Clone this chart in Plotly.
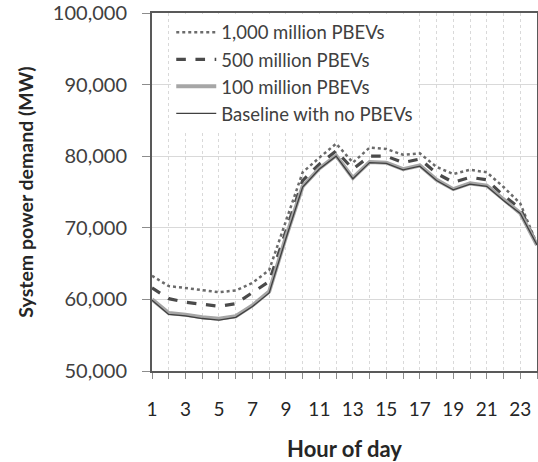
import plotly.graph_objects as go

hours = list(range(1, 25))
pbev_1000 = [63300, 61850, 61600, 61250, 61000, 61250, 62300, 64100, 71000, 77750, 79800, 81750,
             79100, 81200, 81000, 80200, 80400, 78500, 77500, 78100, 77750, 75700, 73400, 67700]
pbev_500 = [61600, 60100, 59600, 59300, 59050, 59400, 60900, 62500, 69500, 76600, 78900, 80750,
            78200, 80000, 80000, 79100, 79600, 77600, 76350, 77050, 76700, 74500, 72700, 67600]
pbev_100 = [60000, 58100, 57850, 57500, 57300, 57650, 59150, 61100, 68700, 75800, 78300, 80100,
            76950, 79200, 79100, 78200, 78700, 76700, 75400, 76200, 75900, 73900, 72050, 67600]
baseline = [59900, 57900, 57700, 57330, 57100, 57500, 59000, 60900, 68500, 75700, 78200, 80000,
            76850, 79100, 79000, 78100, 78600, 76600, 75300, 76100, 75800, 73800, 72000, 67600]
names = ["1,000 million PBEVs", "500 million PBEVs", "100 million PBEVs", "Baseline with no PBEVs"]
y_ticks = [50000, 60000, 70000, 80000, 90000, 100000]
x_ticks = list(range(1, 24, 2))

FONT = "Lato"
fig = go.Figure()
fig.add_trace(go.Scatter(x=hours, y=pbev_1000, name=names[0], mode="lines",
                         line=dict(color="#6b6b6b", width=2.5, dash="dot")))
fig.add_trace(go.Scatter(x=hours, y=pbev_500, name=names[1], mode="lines",
                         line=dict(color="#4a4a4a", width=3.2, dash="dash")))
fig.add_trace(go.Scatter(x=hours, y=pbev_100, name=names[2], mode="lines",
                         line=dict(color="#a6a6a6", width=4)))
fig.add_trace(go.Scatter(x=hours, y=baseline, name=names[3], mode="lines",
                         line=dict(color="#404040", width=1.3)))

fig.update_layout(
    width=538, height=462,
    margin=dict(l=152, r=1, t=13, b=91, autoexpand=False),
    paper_bgcolor="white", plot_bgcolor="white",
    font=dict(family=FONT, color="#404040"),
    showlegend=True,
    legend=dict(x=0.05, y=0.998, xanchor="left", yanchor="top", bgcolor="white",
                font=dict(family=FONT, size=18.5, color="#404040"),
                tracegroupgap=0, itemwidth=40, borderwidth=0,
                ),
)
fig.update_xaxes(
    range=[1, 24], tickvals=x_ticks, ticktext=[str(v) for v in x_ticks],
    tickfont=dict(family=FONT, size=19, color="#262626"),
    ticks="outside", ticklen=6, tickcolor="#8c8c8c", tickwidth=1,
    showgrid=True, gridcolor="#d9d9d9", griddash="3px,3px", gridwidth=1,
    minor=dict(dtick=1, tick0=0, ticks="outside", ticklen=6, tickcolor="#8c8c8c",
               showgrid=True, gridcolor="#d9d9d9", griddash="3px,3px", gridwidth=1),
    showline=True, linecolor="#595959", linewidth=2, mirror=True,
    ticklabelstandoff=14, ticklabeloverflow="allow", automargin=False,
    title=dict(text="<b>Hour of day</b>", font=dict(family=FONT, size=22, color="#262626"),
               standoff=24),
    zeroline=False,
)
fig.update_yaxes(
    range=[50000, 100000], tickvals=y_ticks, ticktext=[f"{v:,}" for v in y_ticks],
    tickfont=dict(family=FONT, size=20, color="#404040"),
    ticks="outside", ticklen=8, tickcolor="#8c8c8c", tickwidth=1,
    showgrid=True, gridcolor="#d9d9d9", gridwidth=1,
    showline=True, linecolor="#595959", linewidth=2, mirror=True,
    ticklabelstandoff=11, ticklabeloverflow="allow", automargin=False,
    title=dict(text="<b>System power demand (MW)</b>", font=dict(family=FONT, size=19.5, color="#262626"),
               standoff=14),
    zeroline=False,
)
fig.write_html("out.html")
